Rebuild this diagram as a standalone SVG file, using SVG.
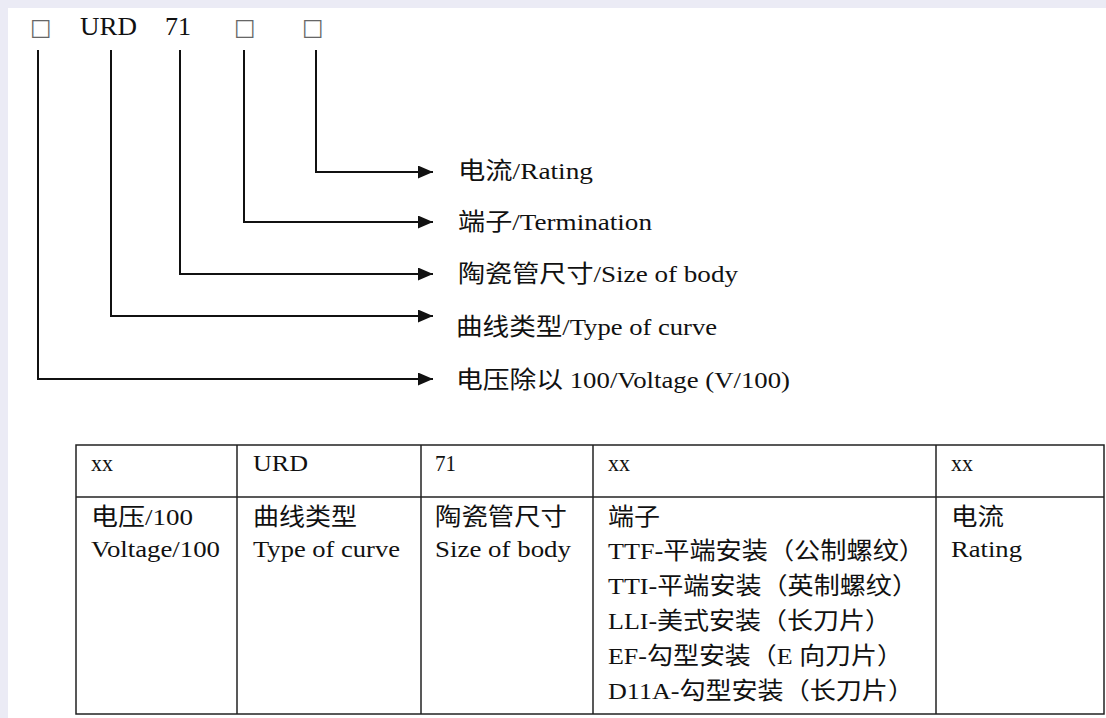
<svg xmlns="http://www.w3.org/2000/svg" width="1106" height="718" viewBox="0 0 1106 718">
<style>
.t{font-family:"Liberation Serif","Noto Sans CJK SC",serif;fill:#111;}
.s22{font-size:23.5px;}
.s26{font-size:26px;}
.box{font-family:"DejaVu Sans","Noto Sans CJK SC",sans-serif;font-size:23px;fill:#666;}
.conn{fill:none;stroke:#111;stroke-width:2;}
.grid{stroke:#222;stroke-width:1.5;fill:none;}
</style>
<defs>
<marker id="arr" markerUnits="userSpaceOnUse" markerWidth="16" markerHeight="13" refX="15" refY="6.5" orient="auto">
<path d="M0,0 L15,6.5 L0,13 z" fill="#111"/>
</marker>
</defs>
<rect x="0" y="0" width="1106" height="718" fill="#ebebf5"/>
<rect x="8" y="8" width="1098" height="710" fill="#ffffff"/>

<g id="code">
<text class="box" x="30" y="35">□</text>
<text class="t s26" x="80" y="35" textLength="57" lengthAdjust="spacingAndGlyphs">URD</text>
<text class="t s26" x="165" y="35" textLength="26" lengthAdjust="spacingAndGlyphs">71</text>
<text class="box" x="234" y="35">□</text>
<text class="box" x="302" y="35">□</text>
</g>

<g id="connectors">
<path class="conn" d="M316,50 V172 H433" marker-end="url(#arr)"/>
<path class="conn" d="M244,50 V222 H433" marker-end="url(#arr)"/>
<path class="conn" d="M180,50 V274 H433" marker-end="url(#arr)"/>
<path class="conn" d="M111,50 V316 H433" marker-end="url(#arr)"/>
<path class="conn" d="M38,50 V379 H433" marker-end="url(#arr)"/>
</g>

<g id="label-rating"><text class="t s22" x="458" y="179" textLength="135" lengthAdjust="spacingAndGlyphs">电流/Rating</text></g>
<g id="label-termination"><text class="t s22" x="458" y="230" textLength="194" lengthAdjust="spacingAndGlyphs">端子/Termination</text></g>
<g id="label-size"><text class="t s22" x="458" y="282" textLength="280" lengthAdjust="spacingAndGlyphs">陶瓷管尺寸/Size of body</text></g>
<g id="label-curve"><text class="t s22" x="456" y="335" textLength="261" lengthAdjust="spacingAndGlyphs">曲线类型/Type of curve</text></g>
<g id="label-voltage"><text class="t s22" x="456" y="388" textLength="334" lengthAdjust="spacingAndGlyphs">电压除以 100/Voltage (V/100)</text></g>

<g id="table">
<rect class="grid" x="76" y="445" width="1028" height="269"/>
<line class="grid" x1="76" y1="497" x2="1104" y2="497"/>
<line class="grid" x1="237" y1="445" x2="237" y2="714"/>
<line class="grid" x1="421" y1="445" x2="421" y2="714"/>
<line class="grid" x1="593" y1="445" x2="593" y2="714"/>
<line class="grid" x1="936" y1="445" x2="936" y2="714"/>

<text class="t s22" x="91" y="471" textLength="22" lengthAdjust="spacingAndGlyphs">xx</text>
<text class="t s22" x="253" y="471" textLength="55" lengthAdjust="spacingAndGlyphs">URD</text>
<text class="t s22" x="435" y="471" textLength="21" lengthAdjust="spacingAndGlyphs">71</text>
<text class="t s22" x="608" y="471" textLength="22" lengthAdjust="spacingAndGlyphs">xx</text>
<text class="t s22" x="951" y="471" textLength="22" lengthAdjust="spacingAndGlyphs">xx</text>

<text class="t s22" x="91" y="525" textLength="102" lengthAdjust="spacingAndGlyphs">电压/100</text>
<text class="t s22" x="91" y="557" textLength="129" lengthAdjust="spacingAndGlyphs">Voltage/100</text>
<text class="t s22" x="253" y="525" textLength="104" lengthAdjust="spacingAndGlyphs">曲线类型</text>
<text class="t s22" x="253" y="557" textLength="147" lengthAdjust="spacingAndGlyphs">Type of curve</text>
<text class="t s22" x="435" y="525" textLength="132" lengthAdjust="spacingAndGlyphs">陶瓷管尺寸</text>
<text class="t s22" x="435" y="557" textLength="136" lengthAdjust="spacingAndGlyphs">Size of body</text>
<text class="t s22" x="608" y="525" textLength="52" lengthAdjust="spacingAndGlyphs">端子</text>
<text class="t s22" x="608" y="559" textLength="317" lengthAdjust="spacingAndGlyphs">TTF-平端安装（公制螺纹）</text>
<text class="t s22" x="608" y="594" textLength="310" lengthAdjust="spacingAndGlyphs">TTI-平端安装（英制螺纹）</text>
<text class="t s22" x="608" y="629" textLength="283" lengthAdjust="spacingAndGlyphs">LLI-美式安装（长刀片）</text>
<text class="t s22" x="608" y="664" textLength="295" lengthAdjust="spacingAndGlyphs">EF-勾型安装（E 向刀片）</text>
<text class="t s22" x="608" y="699" textLength="306" lengthAdjust="spacingAndGlyphs">D11A-勾型安装（长刀片）</text>
<text class="t s22" x="951" y="525" textLength="53" lengthAdjust="spacingAndGlyphs">电流</text>
<text class="t s22" x="951" y="557" textLength="71" lengthAdjust="spacingAndGlyphs">Rating</text>
</g>
</svg>
